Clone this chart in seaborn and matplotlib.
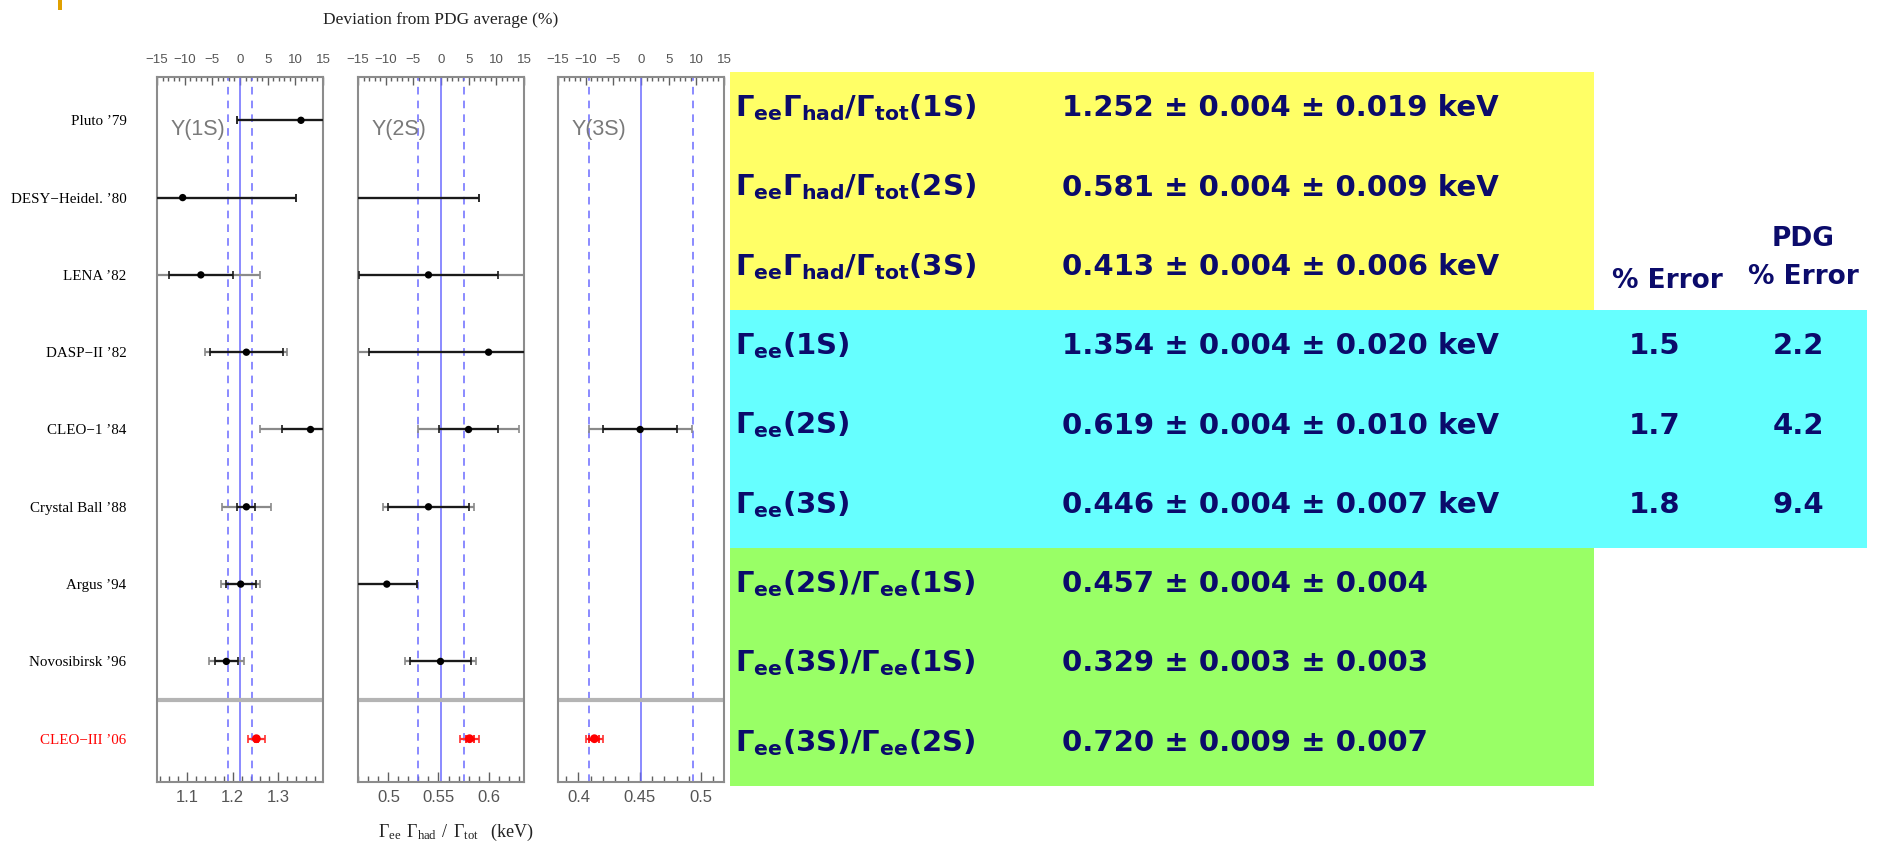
import numpy as np
import pandas as pd
import seaborn as sns
import matplotlib.pyplot as plt
from matplotlib.ticker import MultipleLocator, FuncFormatter
from matplotlib.patches import Rectangle
from matplotlib.transforms import blended_transform_factory

# ---------------------------------------------------------------- data
experiments = ["Pluto ’79", "DESY−Heidel. ’80", "LENA ’82", "DASP−II ’82",
               "CLEO−1 ’84", "Crystal Ball ’88", "Argus ’94",
               "Novosibirsk ’96", "CLEO−III ’06"]

# older measurements of Gamma_ee*Gamma_had/Gamma_tot (keV): value, inner error, outer error
ups1s_val = [1.350, 1.090, 1.130, 1.230, 1.371, 1.230, 1.2175, 1.186]
ups1s_in = [0.140, 0.250, 0.070, 0.081, 0.062, 0.020, 0.033, 0.025]
ups1s_out = [0.140, 0.250, 0.130, 0.090, 0.110, 0.054, 0.043, 0.038]

ups2s_val = [np.nan, 0.440, 0.540, 0.600, 0.580, 0.540, 0.4984, 0.552]
ups2s_in = [np.nan, 0.150, 0.0695, 0.119, 0.0295, 0.040, 0.030, 0.0306]
ups2s_out = [np.nan, 0.150, 0.100, 0.140, 0.050, 0.045, 0.030, 0.0357]

ups3s_val = [np.nan, np.nan, np.nan, np.nan, 0.4503, np.nan, np.nan, np.nan]
ups3s_in = [np.nan, np.nan, np.nan, np.nan, 0.030, np.nan, np.nan, np.nan]
ups3s_out = [np.nan, np.nan, np.nan, np.nan, 0.042, np.nan, np.nan, np.nan]

# CLEO-III results (keV): value, stat, syst
cleo_val = [1.252, 0.581, 0.413]
cleo_stat = [0.004, 0.004, 0.004]
cleo_syst = [0.019, 0.009, 0.006]

# PDG averages (keV) and PDG relative errors (%)
pdg_avg = [1.216, 0.5525, 0.451]
pdg_pct = [2.2, 4.2, 9.4]
our_pct = [1.5, 1.7, 1.8]

state_names = ["Υ(1S)", "Υ(2S)", "Υ(3S)"]
major_step = [0.1, 0.05, 0.05]
minor_step = [0.02, 0.01, 0.01]

table_quantities = [
    r"$\Gamma_{ee}\Gamma_{had}/\Gamma_{tot}(1S)$",
    r"$\Gamma_{ee}\Gamma_{had}/\Gamma_{tot}(2S)$",
    r"$\Gamma_{ee}\Gamma_{had}/\Gamma_{tot}(3S)$",
    r"$\Gamma_{ee}(1S)$",
    r"$\Gamma_{ee}(2S)$",
    r"$\Gamma_{ee}(3S)$",
    r"$\Gamma_{ee}(2S)/\Gamma_{ee}(1S)$",
    r"$\Gamma_{ee}(3S)/\Gamma_{ee}(1S)$",
    r"$\Gamma_{ee}(3S)/\Gamma_{ee}(2S)$",
]
table_results = [
    "1.252 ± 0.004 ± 0.019 keV",
    "0.581 ± 0.004 ± 0.009 keV",
    "0.413 ± 0.004 ± 0.006 keV",
    "1.354 ± 0.004 ± 0.020 keV",
    "0.619 ± 0.004 ± 0.010 keV",
    "0.446 ± 0.004 ± 0.007 keV",
    "0.457 ± 0.004 ± 0.004",
    "0.329 ± 0.003 ± 0.003",
    "0.720 ± 0.009 ± 0.007",
]

# ---------------------------------------------------------------- style
sns.set_theme(style="white")
plt.rcParams["font.family"] = ["DejaVu Sans"]
plt.rcParams["mathtext.fontset"] = "custom"
plt.rcParams["mathtext.rm"] = "DejaVu Sans:bold"
plt.rcParams["mathtext.it"] = "DejaVu Sans:bold"
plt.rcParams["mathtext.bf"] = "DejaVu Sans:bold"
plt.rcParams["mathtext.sf"] = "Liberation Serif"

W, H = 1883, 856
fig = plt.figure(figsize=(W / 100, H / 100), dpi=100)
fig.patch.set_facecolor("white")

NARROW = ["Liberation Sans", "DejaVu Sans"]
SERIF = ["Liberation Serif", "DejaVu Serif"]
FRAME = "#8c8c8c"
TICKC = "#606060"
BLUE = "#6b6bff"
NAVY = "#0b0b6b"

# ---------------------------------------------------------------- table (background layer)
tab = fig.add_axes([0, 0, 1, 1], zorder=0)
tab.set_xlim(0, W)
tab.set_ylim(H, 0)
tab.axis("off")

row_h = 79.3
top = 72
tab.add_patch(Rectangle((730, top), 864, 3 * row_h, color="#ffff66", lw=0))
tab.add_patch(Rectangle((730, top + 3 * row_h), 1137, 3 * row_h, color="#66ffff", lw=0))
tab.add_patch(Rectangle((730, top + 6 * row_h), 864, 3 * row_h, color="#99ff66", lw=0))
tab.add_patch(Rectangle((58, 0), 4, 10, color="#e0a000", lw=0))

for i, (q, r) in enumerate(zip(table_quantities, table_results)):
    yb = top + (i + 0.42) * row_h + 11
    tab.text(735, yb, q, fontsize=21, color=NAVY, va="baseline", ha="left")
    tab.text(1062, yb, r, fontsize=21, color=NAVY, va="baseline", ha="left",
             fontweight="bold")

for j, (a, b) in enumerate(zip(our_pct, pdg_pct)):
    yb = top + (3 + j + 0.42) * row_h + 11
    tab.text(1655, yb, f"{a:.1f}", fontsize=21, color=NAVY, va="baseline",
             ha="center", fontweight="bold")
    tab.text(1798, yb, f"{b:.1f}", fontsize=21, color=NAVY, va="baseline",
             ha="center", fontweight="bold")

tab.text(1667, 288, "% Error", fontsize=19, color=NAVY, ha="center",
         va="baseline", fontweight="bold")
tab.text(1803, 246, "PDG", fontsize=19, color=NAVY, ha="center",
         va="baseline", fontweight="bold")
tab.text(1803, 284, "% Error", fontsize=19, color=NAVY, ha="center",
         va="baseline", fontweight="bold")

# ---------------------------------------------------------------- panels
panel_left = [157, 358, 558]
panel_w = 166
panel_top, panel_bot = 77, 782

series = [
    (ups1s_val, ups1s_in, ups1s_out),
    (ups2s_val, ups2s_in, ups2s_out),
    (ups3s_val, ups3s_in, ups3s_out),
]
n_rows = len(experiments)
rows = np.arange(n_rows)

for k in range(3):
    ax = fig.add_axes([panel_left[k] / W, 1 - panel_bot / H,
                       panel_w / W, (panel_bot - panel_top) / H], zorder=2)
    avg = pdg_avg[k]
    ax.set_xlim(avg * 0.85, avg * 1.15)
    ax.set_ylim(n_rows - 0.44, -0.56)

    vals, ein, eout = series[k]
    df = pd.DataFrame({"row": rows[:-1], "val": vals, "ein": ein, "eout": eout}).dropna()

    # PDG average and its error band
    ax.axvline(avg, color=BLUE, lw=1.1, zorder=1)
    for s in (-1, 1):
        ax.axvline(avg * (1 + s * pdg_pct[k] / 100), color=BLUE, lw=1.1,
                   ls=(0, (5, 4)), zorder=1)

    # separator above the new result
    ax.axhline(n_rows - 1.5, color="#b4b4b4", lw=3, zorder=1)

    # older measurements: outer (grey) and inner (black) error bars
    ax.errorbar(df["val"], df["row"], xerr=df["eout"], fmt="none",
                ecolor="#8a8a8a", elinewidth=1.6, capsize=3, capthick=1.2, zorder=2)
    ax.errorbar(df["val"], df["row"], xerr=df["ein"], fmt="none",
                ecolor="#1a1a1a", elinewidth=1.6, capsize=3, capthick=1.2, zorder=3)
    sns.scatterplot(data=df, x="val", y="row", ax=ax, color="black", s=28,
                    edgecolor="none", zorder=4, legend=False)

    # new CLEO-III result
    tot = float(np.hypot(cleo_stat[k], cleo_syst[k]))
    ax.errorbar([cleo_val[k]], [n_rows - 1], xerr=[tot], fmt="none",
                ecolor="#ff3030", elinewidth=1.6, capsize=3, capthick=1.2, zorder=3)
    ax.errorbar([cleo_val[k]], [n_rows - 1], xerr=[cleo_stat[k]], fmt="none",
                ecolor="#ff0000", elinewidth=2.0, capsize=3, capthick=1.2, zorder=3)
    sns.scatterplot(x=[cleo_val[k]], y=[n_rows - 1], ax=ax, color="#ff0000",
                    s=40, edgecolor="none", zorder=5, legend=False)

    ax.text(0.08, 0.12, state_names[k], color="#7a7a7a", fontsize=15.5,
            family=NARROW, va="center", ha="left",
            transform=blended_transform_factory(ax.transAxes, ax.transData))

    for sp in ax.spines.values():
        sp.set_color(FRAME)
        sp.set_linewidth(1.5)

    # bottom axis in keV
    ax.xaxis.set_major_locator(MultipleLocator(major_step[k]))
    ax.xaxis.set_minor_locator(MultipleLocator(minor_step[k]))
    ax.xaxis.set_major_formatter(FuncFormatter(lambda v, p: f"{round(v, 3):g}"))
    ax.tick_params(axis="x", which="major", direction="in", length=7, width=1,
                   color=TICKC, labelcolor="#555555", labelsize=12, pad=6,
                   bottom=True, top=False)
    ax.tick_params(axis="x", which="minor", direction="in", length=4, width=1,
                   color=TICKC, bottom=True, top=False)
    for lab in ax.get_xticklabels():
        lab.set_family(NARROW)

    # top axis: deviation from PDG average in percent
    sec = ax.secondary_xaxis(
        "top",
        functions=(lambda x, a=avg: (x / a - 1) * 100,
                   lambda p, a=avg: a * (1 + p / 100)))
    sec.xaxis.set_major_locator(MultipleLocator(5))
    sec.xaxis.set_minor_locator(MultipleLocator(1))
    sec.xaxis.set_major_formatter(FuncFormatter(lambda v, p: f"{int(round(v))}".replace("-", "−")))
    sec.tick_params(axis="x", which="major", direction="in", length=6, width=1,
                    color=TICKC, labelcolor="#555555", labelsize=9.5, pad=8)
    sec.tick_params(axis="x", which="minor", direction="in", length=3, width=1,
                    color=TICKC)
    sec.spines["top"].set_visible(False)
    for lab in sec.xaxis.get_ticklabels():
        lab.set_family(NARROW)

    ax.set_xlabel("")
    ax.set_ylabel("")
    if k == 0:
        ax.set_yticks(rows)
        ax.set_yticklabels(experiments, family=SERIF, fontsize=10.8)
        ax.tick_params(axis="y", length=0, pad=22)
        for lab in ax.get_yticklabels():
            lab.set_color("black")
        ax.get_yticklabels()[-1].set_color("#ff0000")
    else:
        ax.set_yticks([])

fig.text(441 / W, 1 - 20 / H, "Deviation from PDG average (%)", family=SERIF,
         fontsize=12.5, ha="center", va="center", color="#222222")
fig.text(456 / W, 1 - 832 / H,
         r"$\mathsf{\Gamma_{ee}\ \Gamma_{had}\ /\ \Gamma_{tot}}$   (keV)",
         family=SERIF, fontsize=13, ha="center", va="center", color="#222222")

fig.savefig("out.png", dpi=100)
